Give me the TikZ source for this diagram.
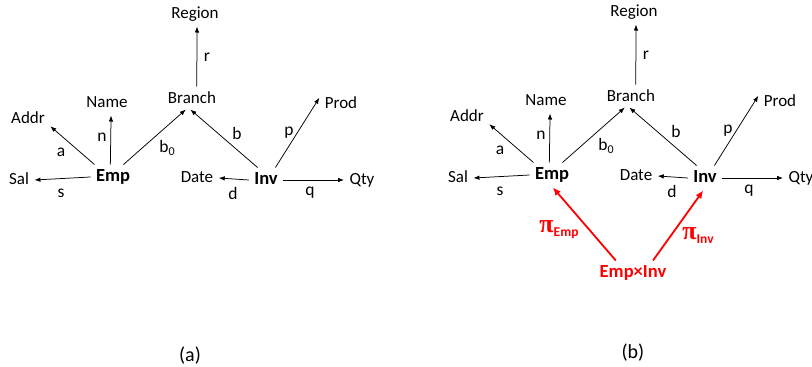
\documentclass[tikz,border=0pt]{standalone}
\usepackage{fontspec}
\setmainfont{Carlito}
\newfontfamily\pifont{Liberation Serif}
\usetikzlibrary{arrows.meta}
\tikzset{
  lbl/.style={inner sep=1.5pt, outer sep=4pt, font=\fontsize{17}{20}\selectfont, text height=11pt, text depth=3pt},
  ent/.style={lbl, font=\fontsize{18.5}{22}\selectfont\bfseries},
  elbl/.style={inner sep=0pt, font=\fontsize{17.5}{20}\selectfont},
  arr/.style={-{Latex[length=6pt,width=4.5pt]}, line width=0.75pt},
  redarr/.style={-{Latex[length=8pt,width=7pt]}, line width=1.8pt, red},
  redlbl/.style={inner sep=0pt, text=red},
  schema/.pic={
    \node[lbl] (region) at (195,14) {Region};
    \node[lbl] (branch) at (192,99) {Branch};
    \node[lbl] (name) at (107,103) {Name};
    \node[lbl] (addr) at (28,119) {Addr};
    \node[lbl] (sal) at (19,180) {Sal};
    \node[ent] (emp) at (113,177) {Emp};
    \node[ent] (inv) at (266,180) {Inv};
    \node[lbl] (date) at (197,178) {Date};
    \node[lbl] (qty) at (362,180) {Qty};
    \node[lbl] (prod) at (341,104) {Prod};
    \draw[arr] (branch.69) -- (region.-81);
    \draw[arr] (emp.102) -- (name.-72);
    \draw[arr] (emp.146) -- (addr.-18);
    \draw[arr] (emp.west) -- (sal.east);
    \draw[arr, shorten >=-3pt] (emp.50) -- (branch.236);
    \draw[arr, shorten >=-3pt] (inv.124) -- (branch.-87);
    \draw[arr] (inv.53) -- (prod.164);
    \draw[arr] (inv.west) -- (date.east);
    \draw[arr] (inv.east) -- (qty.west);
    \node[elbl] (lr) at (207,57) {r};
    \node[elbl] (ln) at (102,137) {n};
    \node[elbl] (la) at (61,152) {a};
    \node[elbl] (ls) at (61,193) {s};
    \node[elbl] (lb0) at (167,148) {b\raisebox{-3pt}{\fontsize{12}{14}\selectfont 0}};
    \node[elbl] (lb) at (237,133) {b};
    \node[elbl] (lp) at (289,133) {p};
    \node[elbl] (ld) at (233,193) {d};
    \node[elbl] (lq) at (310,193) {q};
  }
}
\begin{document}
\begin{tikzpicture}[x=1pt,y=-1pt]
\useasboundingbox (0,0) rectangle (812,367);
\pic (A) at (0,0) {schema};
\pic (B) at (439,-2) {schema};
\node[ent, text=red] (prodnode) at (633,273) {Emp×Inv};
\draw[redarr] (prodnode.144) -- (Bemp.-86);
\draw[redarr] (prodnode.32) -- (Binv.-98);
\node[redlbl] (piemp) at (559,230) {{\pifont\bfseries\fontsize{26}{28}\selectfont π}\raisebox{-4pt}{\fontsize{13.5}{15}\selectfont\bfseries Emp}};
\node[redlbl] (piinv) at (698,236) {{\pifont\bfseries\fontsize{26}{28}\selectfont π}\raisebox{-4pt}{\fontsize{13.5}{15}\selectfont\bfseries Inv}};
\node[inner sep=0pt, font=\fontsize{20}{24}\selectfont] (capa) at (190,356) {(a)};
\node[inner sep=0pt, font=\fontsize{20}{24}\selectfont] (capb) at (633,353) {(b)};
\end{tikzpicture}
\end{document}
